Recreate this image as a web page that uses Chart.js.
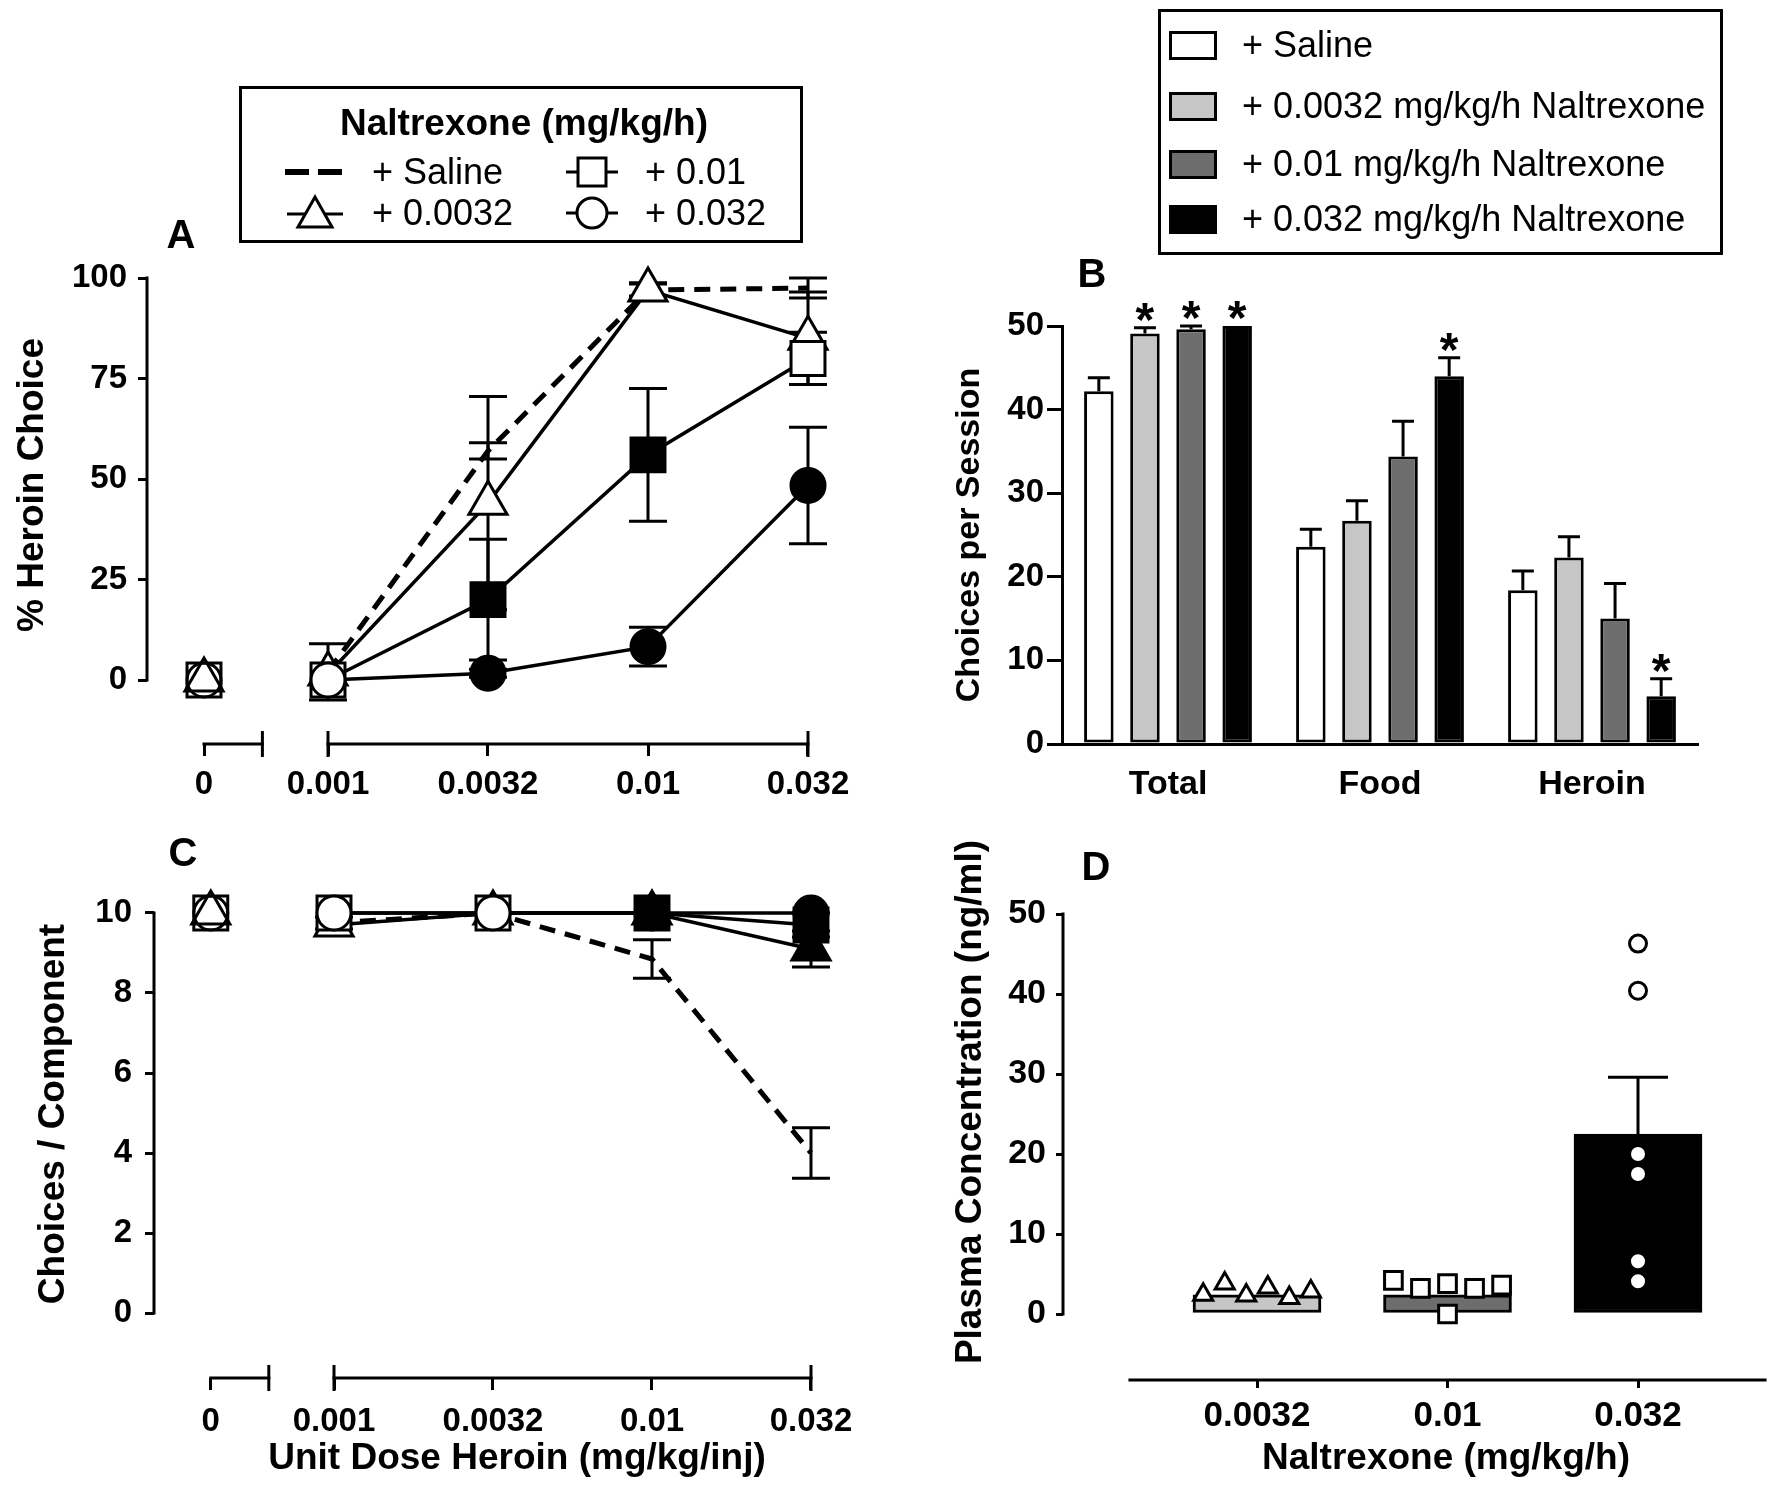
<!DOCTYPE html>
<html>
<head>
<meta charset="utf-8">
<title>Naltrexone and heroin choice</title>
<script src="https://cdn.jsdelivr.net/npm/chart.js@4.4.1/dist/chart.umd.min.js"></script>
<style>
html, body { margin:0; padding:0; background:#fff; overflow:hidden; }
#page { position:relative; width:1775px; height:1495px; overflow:hidden; background:#fff;
        font-family:"Liberation Sans", Arial, Helvetica, sans-serif; color:#000; }
canvas { position:absolute; }
.letter { position:absolute; font-weight:bold; font-size:40px; line-height:1; transform:translate(-50%,-50%); }
.lt { position:absolute; font-size:36px; line-height:1; white-space:nowrap; transform:translateY(-50%); }
.box { position:absolute; border:3px solid #000; box-sizing:border-box; }
.sw { position:absolute; border:3px solid #000; box-sizing:border-box; width:48px; height:29px; }
svg.leg { position:absolute; left:0; top:0; overflow:visible; }
</style>
</head>
<body>
<div id="page">
  <canvas id="chartA" width="900" height="670" style="left:0px;top:150px"></canvas>
  <canvas id="chartB" width="778" height="544" style="left:940px;top:276px"></canvas>
  <canvas id="chartC" width="900" height="685" style="left:0px;top:800px"></canvas>
  <canvas id="chartD" width="899" height="731" style="left:930px;top:754px"></canvas>

  <div class="letter" style="left:181px;top:234px">A</div>
  <div class="letter" style="left:1092px;top:273px">B</div>
  <div class="letter" style="left:183px;top:852px">C</div>
  <div class="letter" style="left:1096px;top:866px">D</div>

  <!-- Legend for A and C -->
  <div class="box" style="left:239px;top:86px;width:564px;height:157px"></div>
  <div class="lt" style="left:524px;top:122px;font-weight:bold;font-size:37px;transform:translate(-50%,-50%)">Naltrexone (mg/kg/h)</div>
  <svg class="leg" width="1775" height="300">
    <line x1="285" y1="172" x2="309" y2="172" stroke="#000" stroke-width="6"/>
    <line x1="318" y1="172" x2="342" y2="172" stroke="#000" stroke-width="6"/>
    <line x1="287" y1="214" x2="343" y2="214" stroke="#000" stroke-width="3"/>
    <polygon points="315,197 298,227 332,227" fill="#fff" stroke="#000" stroke-width="3"/>
    <line x1="566" y1="172" x2="618" y2="172" stroke="#000" stroke-width="3"/>
    <rect x="578" y="158" width="28" height="28" fill="#fff" stroke="#000" stroke-width="3"/>
    <line x1="566" y1="213" x2="618" y2="213" stroke="#000" stroke-width="3"/>
    <circle cx="592" cy="213" r="15" fill="#fff" stroke="#000" stroke-width="3"/>
  </svg>
  <div class="lt" style="left:372px;top:172px">+ Saline</div>
  <div class="lt" style="left:372px;top:213px">+ 0.0032</div>
  <div class="lt" style="left:645px;top:172px">+ 0.01</div>
  <div class="lt" style="left:645px;top:213px">+ 0.032</div>

  <!-- Legend for B -->
  <div class="box" style="left:1158px;top:9px;width:565px;height:246px"></div>
  <div class="sw" style="left:1169px;top:31px;background:#ffffff"></div>
  <div class="sw" style="left:1169px;top:92px;background:#c6c6c6"></div>
  <div class="sw" style="left:1169px;top:150px;background:#6d6d6d"></div>
  <div class="sw" style="left:1169px;top:205px;background:#000000"></div>
  <div class="lt" style="left:1242px;top:45px">+ Saline</div>
  <div class="lt" style="left:1242px;top:106px">+ 0.0032 mg/kg/h Naltrexone</div>
  <div class="lt" style="left:1242px;top:164px">+ 0.01 mg/kg/h Naltrexone</div>
  <div class="lt" style="left:1242px;top:219px">+ 0.032 mg/kg/h Naltrexone</div>
</div>

<script>
// ---------------- DATA ----------------
const heroinDoses = ['0', '0.001', '0.0032', '0.01', '0.032'];

// Panel A: % heroin choice (mean, SEM)
const pctSaline      = [null, 2, 57, 97, 97.5];
const pctSalineSem   = [0, 7, 2, 1.8, 2.5];
const pct0032        = [0, 1.5, 44, 97, 85];
const pct0032Sem     = [0, 0, 26.5, 1.5, 11.5];
const pct01          = [0, 0, 20, 56, 80];
const pct01Sem       = [0, 0, 15, 16.5, 6.5];
const pct032         = [0, 0, 1.7, 8.3, 48.4];
const pct032Sem      = [0, 0, 1, 4.8, 14.5];
const pct0032Filled  = [false, false, false, false, false];
const pct01Filled    = [false, false, true, true, false];
const pct032Filled   = [false, false, true, true, true];
const pctTicks       = [0, 25, 50, 75, 100];

// Panel C: choices per component
const cmpSaline      = [null, 9.75, 10, 8.85, 4.0];
const cmpSalineSem   = [0, 0.15, 0, 0.48, 0.63];
const cmp0032        = [10, 9.7, 10, 10, 9.1];
const cmp0032Sem     = [0, 0, 0, 0, 0.45];
const cmp01          = [10, 10, 10, 10, 9.7];
const cmp01Sem       = [0, 0, 0, 0, 0.3];
const cmp032         = [10, 10, 10, 10, 10];
const cmp032Sem      = [0, 0, 0, 0, 0];
const cmp0032Filled  = [false, false, false, false, true];
const cmp01Filled    = [false, false, false, true, true];
const cmp032Filled   = [false, false, false, true, true];
const cmpTicks       = [0, 2, 4, 6, 8, 10];

// Panel B: choices per session
const sessCategories = ['Total', 'Food', 'Heroin'];
const sessSaline     = [42.2, 23.6, 18.4];
const sessSalineSem  = [1.6, 2.1, 2.3];
const sess0032       = [49.1, 26.7, 22.3];
const sess0032Sem    = [0.7, 2.4, 2.5];
const sess01         = [49.6, 34.4, 15.0];
const sess01Sem      = [0.4, 4.2, 4.2];
const sess032        = [50, 44.0, 5.7];
const sess032Sem     = [0, 2.2, 2.1];
const sess0032Sig    = [true, false, false];
const sess01Sig      = [true, false, false];
const sess032Sig     = [true, true, true];
const sessTicks      = [0, 10, 20, 30, 40, 50];

// Panel D: plasma naltrexone
const ntxDoses       = ['0.0032', '0.01', '0.032'];
const plasmaMean     = [2.4, 2.4, 22.5];
const plasmaSem      = [0, 0, 7.1];
const plasma0032     = [2.4, 3.8, 2.3, 3.3, 2.0, 2.8];
const plasma01       = [4.2, 3.2, 3.8, 0.0, 3.2, 3.6];
const plasma032      = [46.3, 40.4, 20.0, 17.5, 6.6, 4.1];
const plasmaTicks    = [0, 10, 20, 30, 40, 50];

// ---------------- STYLE / LAYOUT ----------------
const FAMILY = '"Liberation Sans", Arial, Helvetica, sans-serif';
function fontAvailable(name) {
  const c = document.createElement('canvas').getContext('2d');
  const t = '0.0032 Heroin Total';
  c.font = 'bold 40px monospace';
  const w1 = c.measureText(t).width;
  c.font = 'bold 40px "' + name + '", monospace';
  const w2 = c.measureText(t).width;
  return Math.abs(w1 - w2) > 0.5;
}
const HAS_NARROW = fontAvailable('Liberation Sans Narrow');
const TICK_FAMILY = HAS_NARROW ? '"Liberation Sans Narrow", "Liberation Sans", Arial, sans-serif' : FAMILY;
const TICK_K = HAS_NARROW ? 1.2 : 1;
Chart.defaults.font.family = FAMILY;
Chart.defaults.color = '#000';
const ZERO_POS = -0.775, BREAK_END = -0.41;
const CLEAR = 'rgba(255,255,255,0)';
const LIGHT = '#c6c6c6', DARK = '#6d6d6d';
function dosePos(i) { return i === 0 ? ZERO_POS : i - 1; }

const manualAxes = {
  id: 'manualAxes',
  beforeDatasetsDraw(chart, args, opts) {
    if (!opts || !opts.enabled) return;
    const ctx = chart.ctx, area = chart.chartArea, xs = chart.scales.x, ys = chart.scales.y;
    ctx.save();
    ctx.strokeStyle = '#000'; ctx.lineWidth = 3; ctx.lineCap = 'square';
    if (opts.yRange) {
      ctx.beginPath();
      ctx.moveTo(area.left, ys.getPixelForValue(opts.yRange[0]));
      ctx.lineTo(area.left, ys.getPixelForValue(opts.yRange[1]));
      ctx.stroke();
    }
    const yb = area.bottom;
    (opts.xSegments || []).forEach(s => {
      ctx.beginPath();
      ctx.moveTo(xs.getPixelForValue(s[0]), yb);
      ctx.lineTo(xs.getPixelForValue(s[1]), yb);
      ctx.stroke();
    });
    ctx.lineCap = 'butt';
    (opts.capTicks || []).forEach(v => {
      const x = xs.getPixelForValue(v);
      ctx.beginPath(); ctx.moveTo(x, yb - 13); ctx.lineTo(x, yb + 13); ctx.stroke();
    });
    ctx.restore();
  }
};

function drawErrors(chart, mode) {
  const ctx = chart.ctx, ys = chart.scales.y;
  chart.data.datasets.forEach((ds, i) => {
    if (!ds.errors || (ds.errorMode || 'both') !== mode) return;
    const meta = chart.getDatasetMeta(i);
    meta.data.forEach((el, j) => {
      const raw = ds.data[j];
      const v = (raw !== null && typeof raw === 'object') ? raw.y : raw;
      const e = ds.errors[j];
      if (v === null || v === undefined || !e) return;
      const x = el.x, h = ds.capHalf || 19;
      const yTop = ys.getPixelForValue(v + e);
      const yBot = ys.getPixelForValue(mode === 'up' ? v : v - e);
      ctx.save();
      ctx.strokeStyle = '#000'; ctx.lineWidth = 3;
      ctx.beginPath();
      ctx.moveTo(x, yBot); ctx.lineTo(x, yTop);
      ctx.moveTo(x - h, yTop); ctx.lineTo(x + h, yTop);
      if (mode === 'both') { ctx.moveTo(x - h, yBot); ctx.lineTo(x + h, yBot); }
      ctx.stroke();
      ctx.restore();
    });
  });
}
function drawStars(chart) {
  const ctx = chart.ctx, ys = chart.scales.y;
  chart.data.datasets.forEach((ds, i) => {
    if (!ds.stars) return;
    const meta = chart.getDatasetMeta(i);
    meta.data.forEach((el, j) => {
      if (!ds.stars[j]) return;
      const top = ds.data[j] + (ds.errors ? ds.errors[j] : 0);
      const y = ys.getPixelForValue(top);
      ctx.save();
      ctx.fillStyle = '#000';
      ctx.font = 'bold 48px ' + FAMILY;
      ctx.textAlign = 'center'; ctx.textBaseline = 'alphabetic';
      ctx.fillText('*', el.x, y + 8);
      ctx.restore();
    });
  });
}
const errorBars = {
  id: 'errorBars',
  beforeDatasetsDraw(chart) { drawErrors(chart, 'both'); },
  afterDatasetsDraw(chart) { drawErrors(chart, 'up'); drawStars(chart); }
};

function doseSeries(label, vals, sems, filled, style, radius, order, dashed) {
  return {
    label: label,
    order: order,
    data: vals.map((v, i) => ({ x: dosePos(i), y: v })),
    errors: sems,
    errorMode: 'both',
    capHalf: 19,
    borderColor: '#000',
    borderWidth: dashed ? 5 : 3.5,
    borderDash: dashed ? [16, 10] : [],
    pointStyle: style,
    pointRadius: dashed ? 0 : radius,
    pointHoverRadius: dashed ? 0 : radius,
    pointBorderWidth: 3,
    pointBorderColor: '#000',
    pointBackgroundColor: filled ? filled.map((f, i) => i === 0 ? CLEAR : (f ? '#000' : '#fff')) : '#fff',
    segment: { borderColor: c => c.p0DataIndex === 0 ? CLEAR : '#000' },
    spanGaps: false,
    tension: 0,
    clip: false
  };
}

function tickFont(size) { return { size: Math.round(size * TICK_K), weight: 'bold', family: TICK_FAMILY }; }
function setTicks(values) { return scale => { scale.ticks = values.map(v => ({ value: v })); }; }
function fixH(h) { return scale => { scale.height = h; }; }
function fixW(w) { return scale => { scale.width = w; }; }
const baseOpts = { responsive: false, animation: false, devicePixelRatio: 1, events: [] };
const noPlug = { legend: { display: false }, tooltip: { enabled: false } };

// ---------------- PANEL A ----------------
new Chart(document.getElementById('chartA'), {
  type: 'line',
  data: { datasets: [
    doseSeries('+ Saline', pctSaline, pctSalineSem, null, 'circle', 0, 4, true),
    doseSeries('+ 0.0032', pct0032, pct0032Sem, pct0032Filled, 'triangle', 22, 3, false),
    doseSeries('+ 0.01', pct01, pct01Sem, pct01Filled, 'rect', 24, 2, false),
    doseSeries('+ 0.032', pct032, pct032Sem, pct032Filled, 'circle', 17, 1, false)
  ]},
  options: Object.assign({}, baseOpts, {
    layout: { autoPadding: false, padding: { top: 76, right: 20, left: 0, bottom: 0 } },
    plugins: Object.assign({}, noPlug, { manualAxes: { enabled: true, yRange: [0, 100],
      xSegments: [[ZERO_POS, BREAK_END], [0, 3]], capTicks: [BREAK_END, 0, 3] } }),
    scales: {
      x: { type: 'linear', min: -1.13125, max: 3.45, afterFit: fixH(76),
           afterBuildTicks: scale => { scale.ticks = heroinDoses.map((d, i) => ({ value: dosePos(i) })); },
           ticks: { callback: (v, i) => heroinDoses[i], font: tickFont(33), padding: 9, maxRotation: 0, autoSkip: false },
           grid: { display: true, drawOnChartArea: false, drawTicks: true, tickLength: 12, lineWidth: 3, color: '#000' },
           border: { display: false } },
      y: { type: 'linear', min: -15.92, max: 112.94, afterFit: fixW(147),
           afterBuildTicks: setTicks(pctTicks),
           ticks: { font: tickFont(33), padding: 11 },
           grid: { display: true, drawOnChartArea: false, drawTicks: true, tickLength: 9, lineWidth: 3, color: '#000' },
           border: { display: false },
           title: { display: true, text: '% Heroin Choice', font: { size: 37, weight: 'bold' }, padding: { top: 11, bottom: 0 } } }
    }
  }),
  plugins: [manualAxes, errorBars]
});

// ---------------- PANEL C ----------------
new Chart(document.getElementById('chartC'), {
  type: 'line',
  data: { datasets: [
    doseSeries('+ Saline', cmpSaline, cmpSalineSem, null, 'circle', 0, 4, true),
    doseSeries('+ 0.0032', cmp0032, cmp0032Sem, cmp0032Filled, 'triangle', 22, 3, false),
    doseSeries('+ 0.01', cmp01, cmp01Sem, cmp01Filled, 'rect', 24, 2, false),
    doseSeries('+ 0.032', cmp032, cmp032Sem, cmp032Filled, 'circle', 17, 1, false)
  ]},
  options: Object.assign({}, baseOpts, {
    layout: { autoPadding: false, padding: { top: 50, right: 20, left: 0, bottom: 0 } },
    plugins: Object.assign({}, noPlug, { manualAxes: { enabled: true, yRange: [0, 10],
      xSegments: [[ZERO_POS, BREAK_END], [0, 3]], capTicks: [BREAK_END, 0, 3] } }),
    scales: {
      x: { type: 'linear', min: -1.1321, max: 3.434, afterFit: fixH(107),
           afterBuildTicks: scale => { scale.ticks = heroinDoses.map((d, i) => ({ value: dosePos(i) })); },
           ticks: { callback: (v, i) => heroinDoses[i], font: tickFont(33), padding: 12, maxRotation: 0, autoSkip: false },
           grid: { display: true, drawOnChartArea: false, drawTicks: true, tickLength: 12, lineWidth: 3, color: '#000' },
           border: { display: false },
           title: { display: true, text: 'Unit Dose Heroin (mg/kg/inj)', font: { size: 37, weight: 'bold' }, padding: { top: 0, bottom: 4 } } },
      y: { type: 'linear', min: -1.625, max: 11.575, afterFit: fixW(154),
           afterBuildTicks: setTicks(cmpTicks),
           ticks: { font: tickFont(33), padding: 13 },
           grid: { display: true, drawOnChartArea: false, drawTicks: true, tickLength: 9, lineWidth: 3, color: '#000' },
           border: { display: false },
           title: { display: true, text: 'Choices / Component', font: { size: 37, weight: 'bold' }, padding: { top: 32, bottom: 0 } } }
    }
  }),
  plugins: [manualAxes, errorBars]
});

// ---------------- PANEL B ----------------
function sessSeries(label, vals, sems, sig, color) {
  return { label: label, data: vals, errors: sems, errorMode: 'up', capHalf: 11, stars: sig,
           backgroundColor: color, borderColor: '#000', borderWidth: 3, borderSkipped: false,
           barPercentage: 0.64, categoryPercentage: 0.87, clip: false };
}
new Chart(document.getElementById('chartB'), {
  type: 'bar',
  data: { labels: sessCategories, datasets: [
    sessSeries('+ Saline', sessSaline, sessSalineSem, null, '#ffffff'),
    sessSeries('+ 0.0032 mg/kg/h Naltrexone', sess0032, sess0032Sem, sess0032Sig, LIGHT),
    sessSeries('+ 0.01 mg/kg/h Naltrexone', sess01, sess01Sem, sess01Sig, DARK),
    sessSeries('+ 0.032 mg/kg/h Naltrexone', sess032, sess032Sem, sess032Sig, '#000000')
  ]},
  options: Object.assign({}, baseOpts, {
    layout: { autoPadding: false, padding: { top: 50, right: 20, left: 0, bottom: 0 } },
    plugins: noPlug,
    scales: {
      x: { type: 'category', afterFit: fixH(76),
           ticks: { font: tickFont(34), padding: 20, maxRotation: 0 },
           grid: { display: false, drawTicks: false },
           border: { display: true, width: 3, color: '#000' } },
      y: { type: 'linear', min: 0, max: 50, afterFit: fixW(122),
           afterBuildTicks: setTicks(sessTicks),
           ticks: { font: tickFont(33), padding: 3 },
           grid: { display: true, drawOnChartArea: false, drawTicks: true, tickLength: 15, lineWidth: 3, color: '#000' },
           border: { display: true, width: 3, color: '#000' },
           title: { display: true, text: 'Choices per Session', font: { size: 34, weight: 'bold' }, padding: { top: 9, bottom: 0 } } }
    }
  }),
  plugins: [errorBars]
});

// ---------------- PANEL D ----------------
const triSlots = [-2.5, -1.5, -0.5, 0.5, 1.5, 2.5];
const sqSlots = [-2, -1, 0, 0, 1, 2];
function pointSet(label, vals, idx, slots, step, style, radius) {
  return { type: 'line', label: label, showLine: false, order: 1,
           data: vals.map((v, k) => ({ x: idx + slots[k] * step, y: v })),
           pointStyle: style, pointRadius: radius, pointHoverRadius: radius, pointBorderWidth: 3,
           pointBorderColor: '#000', pointBackgroundColor: '#fff', clip: false };
}
new Chart(document.getElementById('chartD'), {
  type: 'bar',
  data: { datasets: [
    { type: 'bar', label: 'Mean', order: 10,
      data: ntxDoses.map((d, i) => ({ x: i, y: plasmaMean[i] })),
      errors: plasmaSem, errorMode: 'up', capHalf: 30,
      backgroundColor: [LIGHT, DARK, '#000000'], borderColor: '#000', borderWidth: 3, borderSkipped: false,
      barThickness: 128, clip: false },
    pointSet('0.0032', plasma0032, 0, triSlots, 0.113, 'triangle', 11),
    pointSet('0.01', plasma01, 1, sqSlots, 0.142, 'rect', 12.5),
    pointSet('0.032', plasma032, 2, [0, 0, 0, 0, 0, 0], 0, 'circle', 8.5)
  ]},
  options: Object.assign({}, baseOpts, {
    layout: { autoPadding: false, padding: { top: 70, right: 0, left: 0, bottom: 0 } },
    plugins: Object.assign({}, noPlug, { manualAxes: { enabled: true, yRange: [0, 50], xSegments: [[-0.667, 2.667]] } }),
    scales: {
      x: { type: 'linear', min: -1.0184, max: 3.0026, offset: false, afterFit: fixH(105),
           afterBuildTicks: scale => { scale.ticks = ntxDoses.map((d, i) => ({ value: i })); },
           ticks: { callback: (v, i) => ntxDoses[i], font: tickFont(35), padding: 7, maxRotation: 0, autoSkip: false },
           grid: { display: true, offset: false, drawOnChartArea: false, drawTicks: true, tickLength: 8, lineWidth: 3, color: '#000' },
           border: { display: false },
           title: { display: true, text: 'Naltrexone (mg/kg/h)', font: { size: 37, weight: 'bold' }, padding: { top: 0, bottom: 4 } } },
      y: { type: 'linear', min: -8.25, max: 61.25, afterFit: fixW(133),
           afterBuildTicks: setTicks(plasmaTicks),
           ticks: { font: tickFont(34), padding: 10 },
           grid: { display: true, drawOnChartArea: false, drawTicks: true, tickLength: 7, lineWidth: 3, color: '#000' },
           border: { display: false },
           title: { display: true, text: 'Plasma Concentration (ng/ml)', font: { size: 37, weight: 'bold' }, padding: { top: 19, bottom: 0 } } }
    }
  }),
  plugins: [manualAxes, errorBars]
});
</script>
</body>
</html>
